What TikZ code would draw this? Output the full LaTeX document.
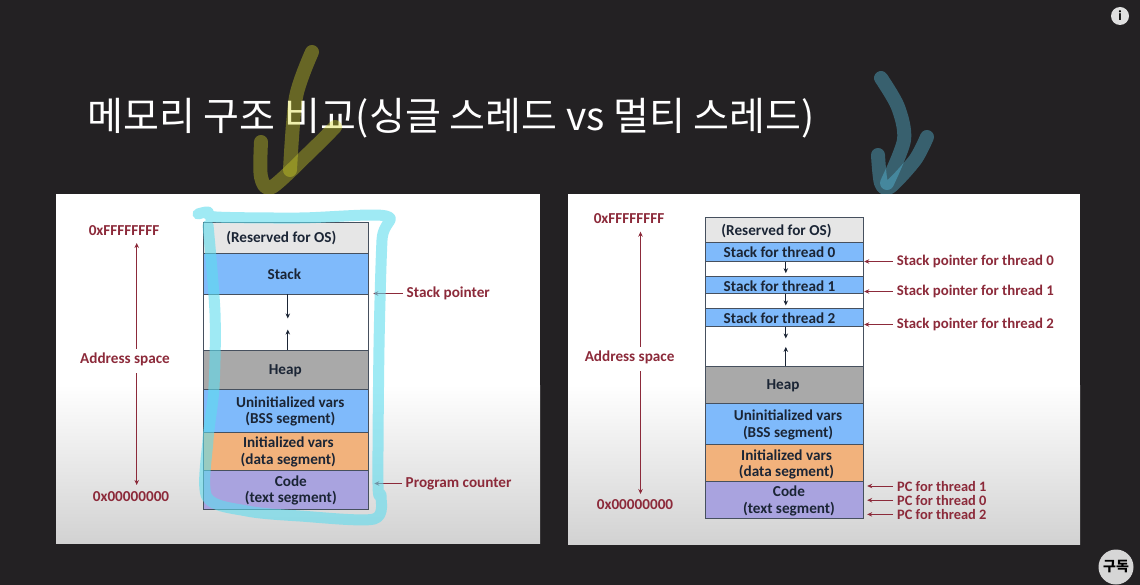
\documentclass[tikz,border=0pt]{standalone}
\usepackage{fontspec}
\setmainfont{Carlito}
\newfontfamily\krfont{Noto Sans CJK KR}
\usepackage{xcolor}
\usetikzlibrary{arrows.meta}
\definecolor{slidebg}{HTML}{232123}
\definecolor{panelgray}{HTML}{D2D2D2}
\definecolor{labelred}{HTML}{8C2A3A}
\definecolor{inkdark}{HTML}{1B2535}
\definecolor{segline}{HTML}{46505E}
\definecolor{resvgray}{HTML}{E6E6E6}
\definecolor{stackblue}{HTML}{7FBAFB}
\definecolor{heapgray}{HTML}{A9A9A9}
\definecolor{dataorange}{HTML}{F2B27C}
\definecolor{codepurple}{HTML}{A9A3DF}
\definecolor{penolive}{HTML}{D8D82A}
\definecolor{penteal}{HTML}{5CC8EA}
\definecolor{pencyan}{HTML}{5FDCEE}
\tikzset{
seg/.style={draw=segline,line width=0.9pt,inner sep=0pt,minimum width=\segw},
lbl/.style={font=\fontsize{15.2}{16.5}\selectfont\bfseries,text=inkdark,align=center,inner sep=0pt},
redlbl/.style={font=\fontsize{15.2}{16.5}\selectfont\bfseries,text=labelred,inner sep=4pt},
redthin/.style={redlbl,font=\fontsize{14.8}{16.5}\selectfont\bfseries,anchor=west},
redpc/.style={redlbl,font=\fontsize{14.4}{14.4}\selectfont\bfseries,anchor=west,inner ysep=0pt},
ptr/.style={draw=labelred,line width=0.8pt,-{Stealth[length=5pt,width=4.5pt]}},
blackarr/.style={draw=inkdark,line width=0.9pt,-{Stealth[length=5pt,width=4.5pt]}},
penmark/.style={line width=14pt,line cap=round,line join=round,opacity=#1}
}
\newcommand{\segw}{165pt}
\newcommand{\seg}[7]{\node[seg,minimum height=#4pt,fill=#5](#1)at(#2,#3){};
\node[lbl](#1t)at([xshift=#6pt,yshift=-1pt]#1.center){#7};}
\begin{document}
\begin{tikzpicture}[x=1pt,y=-1pt,>=Stealth]
\fill[slidebg](0,0)rectangle(1140,585);
\useasboundingbox(0,0)rectangle(1140,585);
\node[text=white,inner sep=0pt,font=\krfont\fontsize{39}{44}\selectfont](title)at(451,118){메모리 구조 비교(싱글 스레드 vs 멀티 스레드)};
\draw[penmark=0.38,penolive]plot[smooth]coordinates{(312,52)(296,97)(290,170)};
\draw[penmark=0.38,penolive]plot[smooth]coordinates{(261,142)(261,177)(272,187)(312,150)(335,127)};
\draw[penmark=0.38,penteal]plot[smooth]coordinates{(881,78)(898,107)(904,140)(887,183)};
\draw[penmark=0.38,penteal]plot[smooth]coordinates{(878,155)(881,183)(890,187)(915,160)(927,137)};
\fill[white](56,194)rectangle(540,385);
\shade[top color=white,bottom color=panelgray](56,385)rectangle(540,543);
\fill[white](568,194)rectangle(1080,385);
\shade[top color=white,bottom color=panelgray](568,385)rectangle(1080,544);
\seg{resvL}{286.3}{237.5}{31}{resvgray}{-5}{(Reserved for OS)}
\seg{stackL}{286.3}{273.5}{41}{stackblue}{-2}{Stack}
\seg{gapL}{286.3}{322}{56}{white}{0}{}
\seg{heapL}{286.3}{369.5}{39}{heapgray}{-1}{Heap}
\seg{bssL}{286.3}{410.5}{43}{stackblue}{4}{Uninitialized vars\\(BSS segment)}
\seg{dataL}{286.3}{451}{38}{dataorange}{2}{Initialized vars\\(data segment)}
\seg{codeL}{286.3}{489.5}{39}{codepurple}{4.5}{Code\\(text segment)}
\draw[blackarr]([xshift=1.5pt]stackL.south)--++(0,24);
\draw[blackarr]([xshift=1.5pt]heapL.north)--++(0,-20);
\node[redlbl](topL)at(124,231){0xFFFFFFFF};
\node[redlbl](botL)at(131,497){0x00000000};
\node[redlbl](addrL)at(125,359.5){Address space};
\coordinate(axisLa)at(136.7,243);
\coordinate(axisLb)at(136.7,485);
\draw[ptr]([xshift=11.7pt]addrL.north)--(axisLa);
\draw[ptr]([xshift=11.7pt,yshift=-3pt]addrL.south)--(axisLb);
\node[redlbl,anchor=west](spL)at(402.5,293.5){Stack pointer};
\node[redlbl,anchor=west](pcL)at(401.5,483.5){Program counter};
\draw[ptr,shorten >=4pt](spL.west)--(spL.west-|stackL.east);
\draw[ptr,shorten >=5pt](pcL.west)--(pcL.west-|codeL.east);
\renewcommand{\segw}{158.5pt}
\seg{resvR}{784.5}{229.9}{24.3}{resvgray}{-8}{(Reserved for OS)}
\seg{stackA}{784.5}{251.7}{19.3}{stackblue}{-5}{Stack for thread 0}
\seg{gapA}{784.5}{268.8}{15}{white}{0}{}
\seg{stackB}{784.5}{285}{17.4}{stackblue}{-5}{Stack for thread 1}
\seg{gapB}{784.5}{301.2}{15}{white}{0}{}
\seg{stackC}{784.5}{317.5}{17.6}{stackblue}{-5}{Stack for thread 2}
\seg{gapC}{784.5}{346.2}{39.7}{white}{0}{}
\seg{heapR}{784.5}{384.7}{37.3}{heapgray}{-1.5}{Heap}
\seg{bssR}{784.5}{424}{41.4}{stackblue}{3.5}{Uninitialized vars\\(BSS segment)}
\seg{dataR}{784.5}{463.2}{37}{dataorange}{2}{Initialized vars\\(data segment)}
\seg{codeR}{784.5}{499.9}{36.3}{codepurple}{4.5}{Code\\(text segment)}
\draw[blackarr]([xshift=1.3pt]stackA.south)--++(0,11.4);
\draw[blackarr]([xshift=1.3pt]stackB.south)--++(0,11.3);
\draw[blackarr]([xshift=1.3pt]stackC.south)--++(0,11.7);
\draw[blackarr]([xshift=1.3pt]heapR.north)--++(0,-18.7);
\node[redlbl](topR)at(629,219){0xFFFFFFFF};
\node[redlbl](botR)at(635,505){0x00000000};
\node[redlbl](addrR)at(629.6,357.5){Address space};
\coordinate(axisRa)at(640.5,231.7);
\coordinate(axisRb)at(640.5,494);
\draw[ptr]([xshift=10.9pt]addrR.north)--(axisRa);
\draw[ptr]([xshift=10.9pt,yshift=-3pt]addrR.south)--(axisRb);
\node[redthin](spA)at(892.7,261.5){Stack pointer for thread 0};
\node[redthin](spB)at(892.7,291.5){Stack pointer for thread 1};
\node[redthin](spC)at(892.7,324.5){Stack pointer for thread 2};
\node[redpc](pcA)at(893,486){PC for thread 1};
\node[redpc](pcB)at(893,500.2){PC for thread 0};
\node[redpc](pcC)at(893,514.4){PC for thread 2};
\draw[ptr](spA.west)--(spA.west-|stackA.east);
\draw[ptr](spB.west)--(spB.west-|stackB.east);
\draw[ptr](spC.west)--(spC.west-|stackC.east);
\draw[ptr,shorten >=3pt](pcA.west)--(pcA.west-|codeR.east);
\draw[ptr,shorten >=3pt](pcB.west)--(pcB.west-|codeR.east);
\draw[ptr,shorten >=3pt](pcC.west)--(pcC.west-|codeR.east);
\draw[penmark=0.6,line width=11pt,pencyan]plot[smooth]coordinates{(198,214)(208,212)(216,217)(300,218)(386,216)(382,240)(379,347)(378,485)(381,495)(374,519)(300,516)(247,511)(207,497)(208,440)(214,387)(215,313)(208,225)};
\node[circle,fill=white!88!black,minimum size=18pt,inner sep=0pt,text=black,font=\bfseries\fontsize{14}{14}\selectfont](info)at(1120,16){i};
\node[circle,fill=white!84!black,minimum size=35pt,inner sep=0pt,text=black,font=\krfont\bfseries\fontsize{14}{14}\selectfont](sub)at(1116,567){구독};
\end{tikzpicture}
\end{document}
